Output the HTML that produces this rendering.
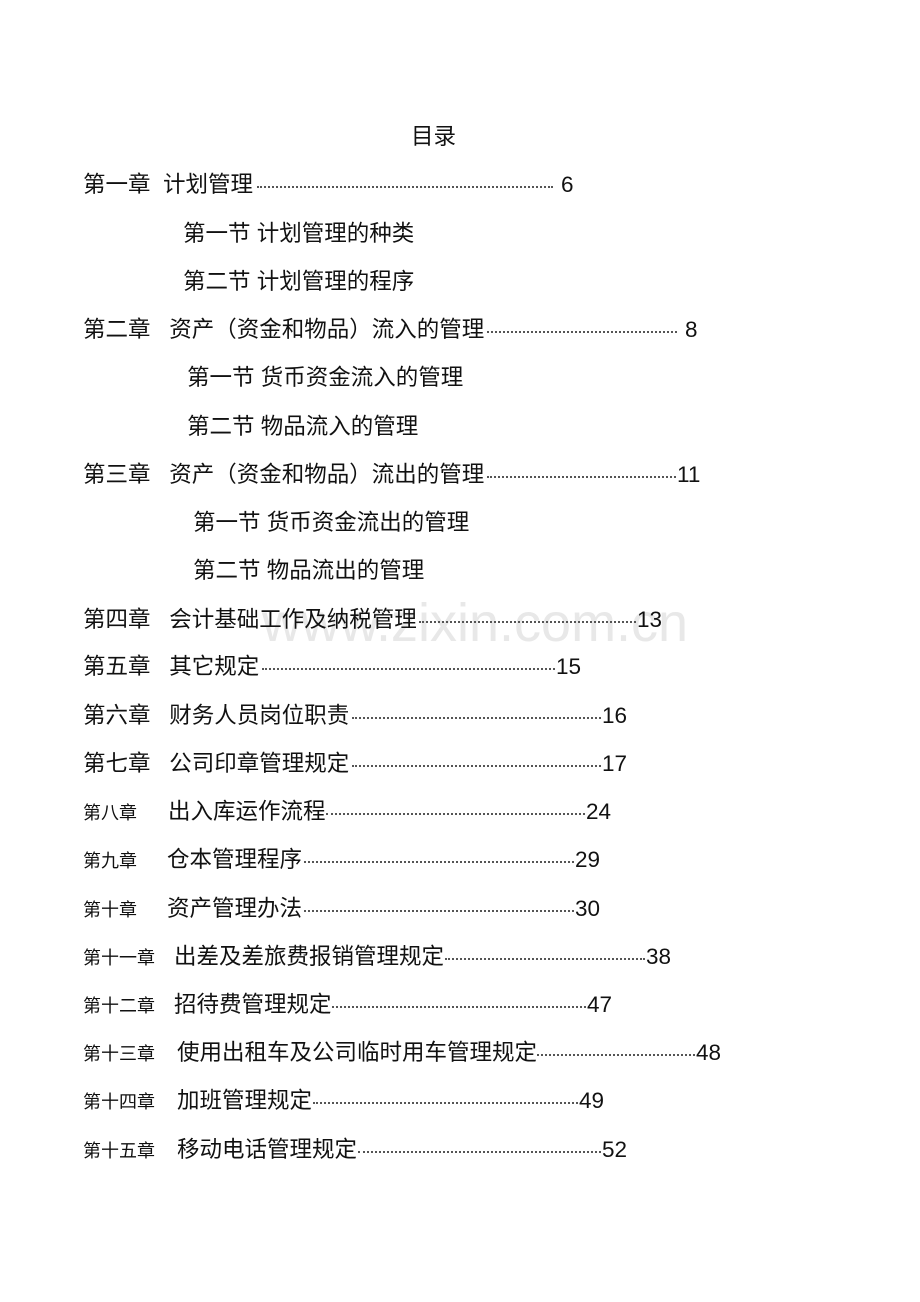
<!DOCTYPE html>
<html><head><meta charset="utf-8"><style>
body{margin:0;background:#fff;}
#p{position:relative;width:920px;height:1302px;overflow:hidden;font-family:"Liberation Sans","Noto Sans CJK SC",sans-serif;color:#111;}
.t{position:absolute;font-size:22.5px;line-height:24px;white-space:nowrap;}
.s{position:absolute;font-size:18px;line-height:20px;white-space:nowrap;}
.d{position:absolute;height:0;border-top:2px dotted #555;}
.wm{position:absolute;left:262px;top:592px;font-size:54px;color:#e8e8e8;font-family:"Liberation Sans",sans-serif;white-space:nowrap;}
</style></head><body><div id="p">
<div class="wm">www.zixin.com.cn</div>
<div class="t" style="left:411px;top:125px">目录</div>

<div class="t" style="left:83px;top:173px">第一章&nbsp;&nbsp;计划管理</div><div class="d" style="left:257px;width:296px;top:186px"></div><div class="t" style="left:561px;top:173px">6</div>
<div class="t" style="left:183px;top:222px">第一节 计划管理的种类</div>
<div class="t" style="left:183px;top:270px">第二节 计划管理的程序</div>

<div class="t" style="left:83px;top:318px">第二章&nbsp;&nbsp;&nbsp;资产（资金和物品）流入的管理</div><div class="d" style="left:487px;width:190px;top:331px"></div><div class="t" style="left:685px;top:318px">8</div>
<div class="t" style="left:187px;top:366px">第一节 货币资金流入的管理</div>
<div class="t" style="left:187px;top:415px">第二节 物品流入的管理</div>

<div class="t" style="left:83px;top:463px">第三章&nbsp;&nbsp;&nbsp;资产（资金和物品）流出的管理</div><div class="d" style="left:487px;width:189px;top:476px"></div><div class="t" style="left:677px;top:463px">11</div>
<div class="t" style="left:193px;top:511px">第一节 货币资金流出的管理</div>
<div class="t" style="left:193px;top:559px">第二节 物品流出的管理</div>

<div class="t" style="left:83px;top:608px">第四章&nbsp;&nbsp;&nbsp;会计基础工作及纳税管理</div><div class="d" style="left:419px;width:217px;top:621px"></div><div class="t" style="left:637px;top:608px">13</div>
<div class="t" style="left:83px;top:655px">第五章&nbsp;&nbsp;&nbsp;其它规定</div><div class="d" style="left:262px;width:293px;top:668px"></div><div class="t" style="left:556px;top:655px">15</div>
<div class="t" style="left:83px;top:704px">第六章&nbsp;&nbsp;&nbsp;财务人员岗位职责</div><div class="d" style="left:352px;width:249px;top:717px"></div><div class="t" style="left:602px;top:704px">16</div>
<div class="t" style="left:83px;top:752px">第七章&nbsp;&nbsp;&nbsp;公司印章管理规定</div><div class="d" style="left:352px;width:249px;top:765px"></div><div class="t" style="left:602px;top:752px">17</div>

<div class="s" style="left:83px;top:803px">第八章</div><div class="t" style="left:168px;top:800px">出入库运作流程</div><div class="d" style="left:326px;width:259px;top:813px"></div><div class="t" style="left:586px;top:800px">24</div>
<div class="s" style="left:83px;top:851px">第九章</div><div class="t" style="left:167px;top:848px">仓本管理程序</div><div class="d" style="left:304px;width:270px;top:861px"></div><div class="t" style="left:575px;top:848px">29</div>
<div class="s" style="left:83px;top:900px">第十章</div><div class="t" style="left:167px;top:897px">资产管理办法</div><div class="d" style="left:304px;width:270px;top:910px"></div><div class="t" style="left:575px;top:897px">30</div>
<div class="s" style="left:83px;top:948px">第十一章</div><div class="t" style="left:174px;top:945px">出差及差旅费报销管理规定</div><div class="d" style="left:445px;width:200px;top:958px"></div><div class="t" style="left:646px;top:945px">38</div>
<div class="s" style="left:83px;top:996px">第十二章</div><div class="t" style="left:174px;top:993px">招待费管理规定</div><div class="d" style="left:332px;width:254px;top:1006px"></div><div class="t" style="left:587px;top:993px">47</div>
<div class="s" style="left:83px;top:1044px">第十三章</div><div class="t" style="left:177px;top:1041px">使用出租车及公司临时用车管理规定</div><div class="d" style="left:537px;width:158px;top:1054px"></div><div class="t" style="left:696px;top:1041px">48</div>
<div class="s" style="left:83px;top:1092px">第十四章</div><div class="t" style="left:177px;top:1089px">加班管理规定</div><div class="d" style="left:313px;width:265px;top:1102px"></div><div class="t" style="left:579px;top:1089px">49</div>
<div class="s" style="left:83px;top:1141px">第十五章</div><div class="t" style="left:177px;top:1138px">移动电话管理规定</div><div class="d" style="left:358px;width:243px;top:1151px"></div><div class="t" style="left:602px;top:1138px">52</div>
</div></body></html>
